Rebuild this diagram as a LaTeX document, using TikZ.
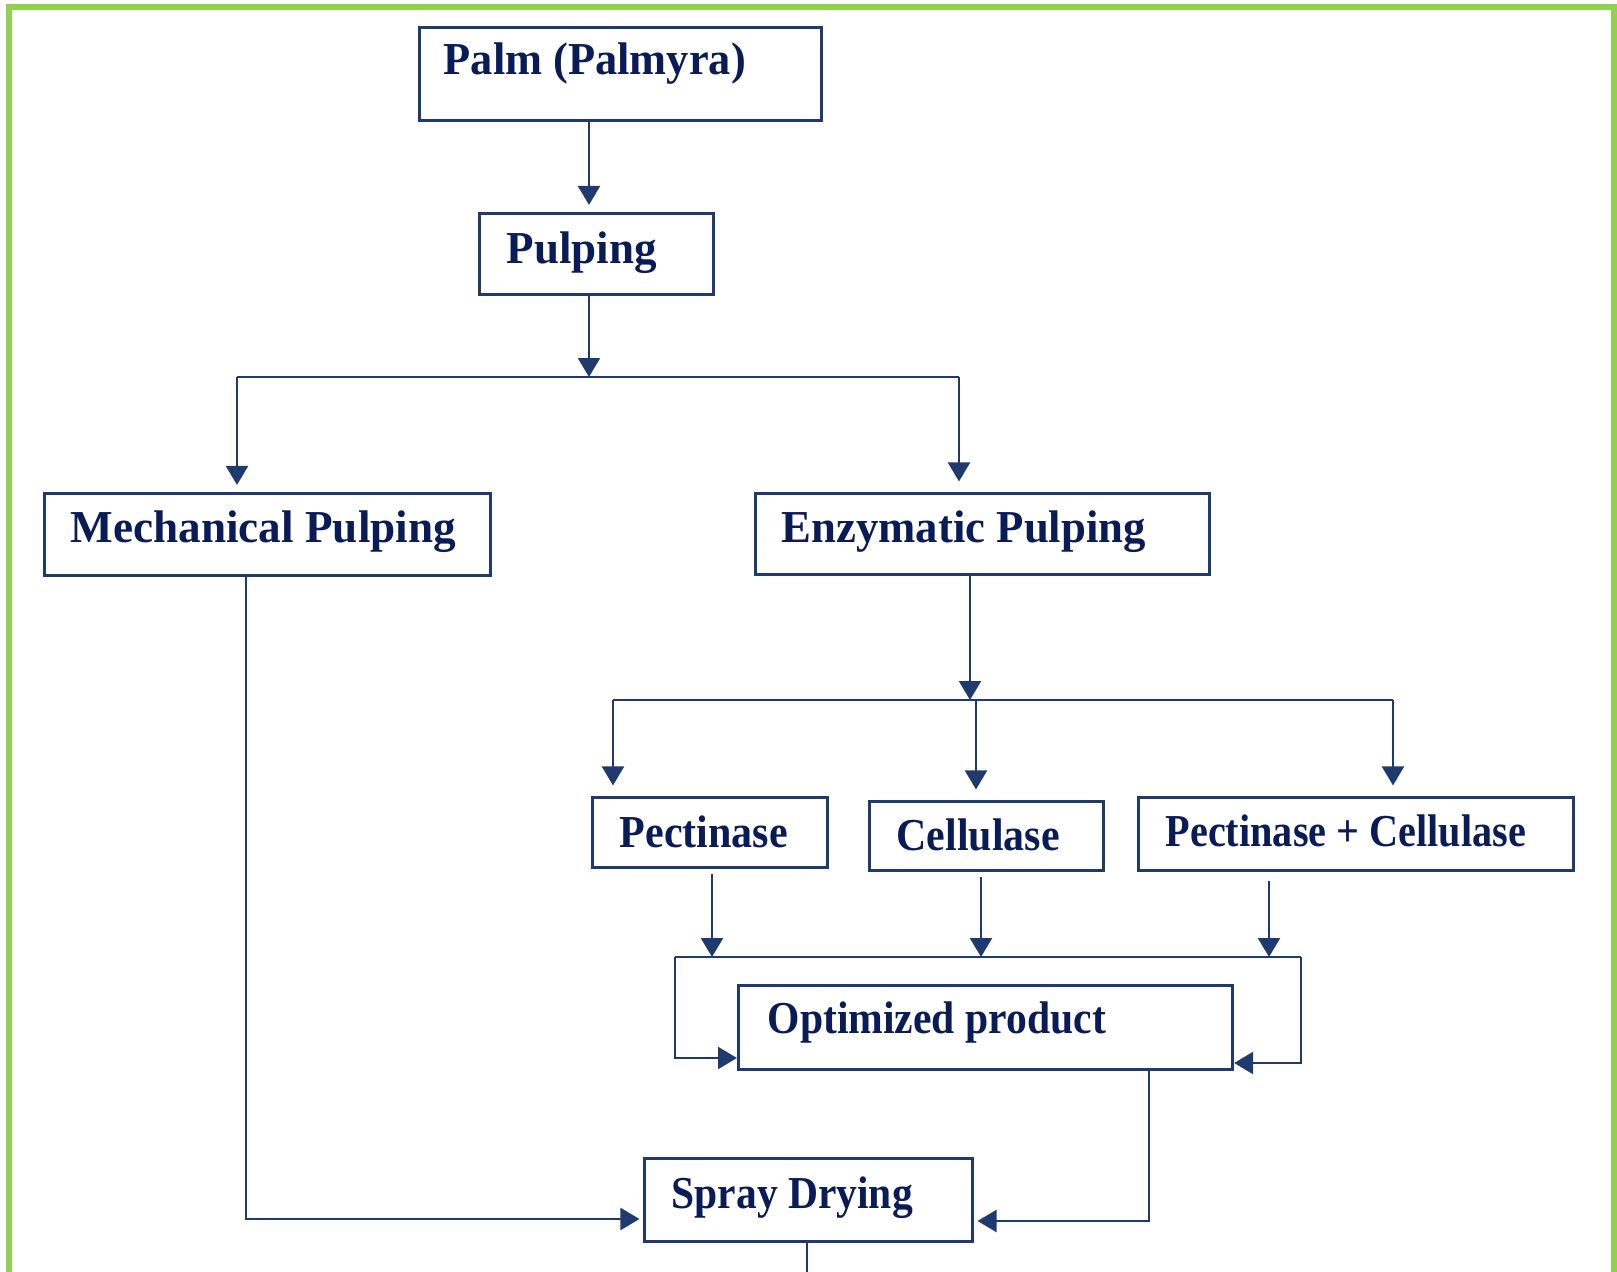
\documentclass[tikz,border=0pt]{standalone}
\usepackage{fontspec}
\setmainfont{Liberation Serif}
\usetikzlibrary{arrows.meta}
\definecolor{navyline}{HTML}{1F3A6E}
\definecolor{navytext}{HTML}{0A1C58}
\definecolor{framegreen}{HTML}{92D050}
\newcommand{\fitw}[2]{\resizebox{#1}{\height}{#2}}
\tikzset{
  px/.style={x=0.01cm,y=-0.01cm},
  boxnode/.style={draw=navyline, line width=0.8pt, inner sep=0pt, anchor=north west},
  txt/.style={anchor=base west, inner sep=0pt, text=navytext, font=\fontsize{13}{15}\selectfont\bfseries},
  conn/.style={draw=navyline, line width=0.8pt},
  arr/.style={conn, -{Triangle[length=5.4pt,width=6.2pt]}},
}
\begin{document}
\begin{tikzpicture}[px]
\useasboundingbox (0,0) rectangle (1617,1272);
% green frame
\draw[framegreen, line width=1.8pt] (9,1272) -- (9,7) -- (1614,7) -- (1614,1272);

% boxes
\node[boxnode, minimum width=4.02cm, minimum height=0.93cm] (palm) at (418,26) {};
\node[boxnode, minimum width=2.34cm, minimum height=0.81cm] (pulp) at (478,212) {};
\node[boxnode, minimum width=4.46cm, minimum height=0.82cm] (mech) at (43,492) {};
\node[boxnode, minimum width=4.54cm, minimum height=0.81cm] (enz) at (754,492) {};
\node[boxnode, minimum width=2.35cm, minimum height=0.70cm] (pec) at (591,796) {};
\node[boxnode, minimum width=2.34cm, minimum height=0.69cm] (cel) at (868,800) {};
\node[boxnode, minimum width=4.35cm, minimum height=0.73cm] (pc) at (1137,796) {};
\node[boxnode, minimum width=4.94cm, minimum height=0.84cm] (opt) at (737,984) {};
\node[boxnode, minimum width=3.28cm, minimum height=0.83cm] (spray) at (643,1157) {};

% texts
\node[txt] (palmT) at (443,74) {\fitw{3.02cm}{Palm (Palmyra)}};
\node[txt] (pulpT) at (506,263) {\fitw{1.50cm}{Pulping}};
\node[txt] (mechT) at (70,542) {\fitw{3.85cm}{Mechanical Pulping}};
\node[txt] (enzT) at (781,542) {\fitw{3.64cm}{Enzymatic Pulping}};
\node[txt] (pecT) at (619,847) {\fitw{1.68cm}{Pectinase}};
\node[txt] (celT) at (896,850) {\fitw{1.63cm}{Cellulase}};
\node[txt] (pcT) at (1165,846) {\fitw{3.60cm}{Pectinase + Cellulase}};
\node[txt] (optT) at (767,1033) {\fitw{3.38cm}{Optimized product}};
\node[txt] (sprayT) at (671,1208) {\fitw{2.41cm}{Spray Drying}};

% junction coordinates
\coordinate (s1) at (589,377);
\coordinate (s1L) at (237,377);
\coordinate (s1R) at (959,377);
\coordinate (s2) at (970,700);
\coordinate (s2L) at (613,700);
\coordinate (s2M) at (976,700);
\coordinate (s2R) at (1393,700);
\coordinate (m1) at (712,957);
\coordinate (m2) at (981,957);
\coordinate (m3) at (1269,957);
\coordinate (mL) at (675,957);
\coordinate (mR) at (1301,957);
\coordinate (cL) at (675,1058);
\coordinate (cR) at (1301,1063);
\coordinate (oD) at (1149,1221);
\coordinate (mD) at (246,1219);
\coordinate (endB) at (807,1272);

% connectors
\draw[arr, shorten >=2pt] (palm.south -| s1) -- (pulp.north -| s1);
\draw[arr] (pulp.south -| s1) -- (s1);
\draw[conn] (s1L) -- (s1R);
\draw[arr, shorten >=2pt] (s1L) -- (mech.north -| s1L);
\draw[arr, shorten >=3pt] (s1R) -- (enz.north -| s1R);
\draw[arr] (enz.south -| s2) -- (s2);
\draw[conn] (s2L) -- (s2R);
\draw[arr, shorten >=3pt] (s2L) -- (pec.north -| s2L);
\draw[arr, shorten >=3pt] (s2M) -- (cel.north -| s2M);
\draw[arr, shorten >=3pt] (s2R) -- (pc.north -| s2R);
\draw[arr, shorten <=1.5pt] (pec.south -| m1) -- (m1);
\draw[arr, shorten <=1.5pt] (cel.south -| m2) -- (m2);
\draw[arr, shorten <=2.5pt] (pc.south -| m3) -- (m3);
\draw[conn] (mL) -- (mR);
\draw[arr] (mL) -- (cL) -- (opt.west |- cL);
\draw[arr] (mR) -- (cR) -- (opt.east |- cR);
\draw[arr, shorten >=1pt] (opt.south -| oD) -- (oD) -- (spray.east |- oD);
\draw[arr, shorten >=1pt] (mech.south -| mD) -- (mD) -- (spray.west |- mD);
\draw[conn] (spray.south -| endB) -- (endB);
\end{tikzpicture}
\end{document}
